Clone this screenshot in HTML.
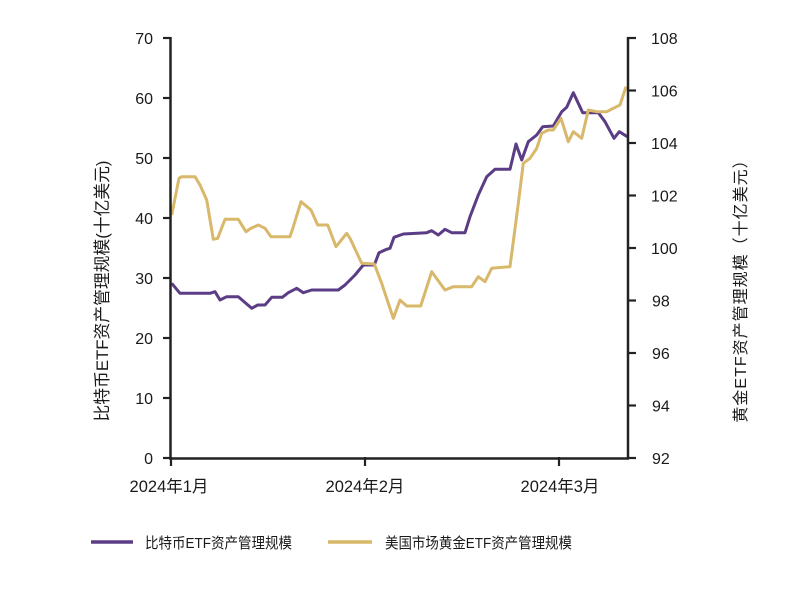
<!DOCTYPE html>
<html>
<head>
<meta charset="utf-8">
<style>
html,body{margin:0;padding:0;background:#fff;}
svg{display:block;}
text{font-family:"Liberation Sans","Noto Sans CJK SC",sans-serif;fill:#1a1a1a;}
</style>
</head>
<body>
<svg width="806" height="591" viewBox="0 0 806 591" xmlns="http://www.w3.org/2000/svg">
<rect width="806" height="591" fill="#fff"/>

<!-- purple series -->
<polyline fill="none" stroke="#5a3d85" stroke-width="3" stroke-linejoin="round" points="
171.7,283.3 180,293.3 210,293.3 215,291.7 220,300 226.7,296.7 238.3,296.7 251.7,308.3 257.7,305 265,305 271.7,297.3 282.3,297.3 288.3,292.7 296.7,288.3 303.3,292.7 311.7,290 338.3,290 345,285 355,275 363.3,265 374.3,265 379,252.7 386.7,249.3 390,248.3 394,237.3 403.3,234 426.7,232.7 431.7,230.7 438.3,235 445,229.3 451.7,232.7 465,232.7 470,216.7 478.3,195 486.7,176.7 495,169.3 510,169.3 516,144 521.7,160 528.3,141.7 536.7,135 542.7,126.7 553.3,126 561.7,111.7 566.7,107.3 573.3,92.7 582.7,112.7 598.3,112.7 605,121.7 614,138.3 619.3,131.7 627.3,136.7"/>

<!-- gold series -->
<polyline fill="none" stroke="#d8b86a" stroke-width="3" stroke-linejoin="round" points="
171.7,215 179,178.3 181.7,176.7 195,176.7 200,185 206.7,200 213.3,239.3 217.7,238.3 225,219.3 238.3,219.3 246,231.7 251,228.3 258.3,225 265,228.3 271,236.7 290,236.7 293.3,226.7 301,201.7 311,210 317.7,225 327.7,225 336,246.7 346.7,233.3 350,238.3 361.7,263.3 374.3,264 381.7,283.3 393.3,318.3 400,300 406.7,306 420.7,306 431.7,271.7 445,290 453.3,286.7 471.7,286.7 478.3,276.7 485,281.7 491.7,268.3 510,266.7 518.3,203.3 523.3,163.3 530,158.3 536.7,148.3 541.7,133.3 548.3,130 553.3,130 561,118.3 568.3,141.7 573.3,131.7 581.7,138.3 588.3,110 596.7,111.7 606.7,111.7 613.3,108.3 620,105 626,86.7"/>

<!-- axes -->
<g stroke="#222" stroke-width="2.5" fill="none">
<line x1="170.5" y1="37" x2="170.5" y2="459"/>
<line x1="628" y1="37" x2="628" y2="459"/>
<line x1="169" y1="458.5" x2="629" y2="458.5"/>
</g>
<g stroke="#222" stroke-width="2.2">
<line x1="163" y1="38" x2="171" y2="38"/>
<line x1="163" y1="98" x2="171" y2="98"/>
<line x1="163" y1="158" x2="171" y2="158"/>
<line x1="163" y1="218" x2="171" y2="218"/>
<line x1="163" y1="278" x2="171" y2="278"/>
<line x1="163" y1="338" x2="171" y2="338"/>
<line x1="163" y1="398" x2="171" y2="398"/>
<line x1="163" y1="458" x2="171" y2="458"/>
<line x1="627" y1="38" x2="636" y2="38"/>
<line x1="627" y1="90.5" x2="636" y2="90.5"/>
<line x1="627" y1="143" x2="636" y2="143"/>
<line x1="627" y1="195.5" x2="636" y2="195.5"/>
<line x1="627" y1="248" x2="636" y2="248"/>
<line x1="627" y1="300.5" x2="636" y2="300.5"/>
<line x1="627" y1="353" x2="636" y2="353"/>
<line x1="627" y1="405.5" x2="636" y2="405.5"/>
<line x1="627" y1="458" x2="636" y2="458"/>
<line x1="171" y1="457" x2="171" y2="466"/>
<line x1="365" y1="457" x2="365" y2="466"/>
<line x1="559" y1="457" x2="559" y2="466"/>
</g>

<g font-size="16" text-anchor="end">
<text x="153" y="44">70</text>
<text x="153" y="104">60</text>
<text x="153" y="164">50</text>
<text x="153" y="224">40</text>
<text x="153" y="284">30</text>
<text x="153" y="344">20</text>
<text x="153" y="404">10</text>
<text x="153" y="464">0</text>
</g>
<g font-size="16" text-anchor="start">
<text x="651" y="44">108</text>
<text x="651" y="96.5">106</text>
<text x="651" y="149">104</text>
<text x="651" y="201.5">102</text>
<text x="651" y="254">100</text>
<text x="652" y="306.5">98</text>
<text x="652" y="359">96</text>
<text x="652" y="411.5">94</text>
<text x="652" y="464">92</text>
</g>
<g font-size="16.5" text-anchor="middle">
<text x="169" y="492">2024年1月</text>
<text x="365" y="492">2024年2月</text>
<text x="560" y="492">2024年3月</text>
</g>

<text font-size="16.8" text-anchor="middle" transform="translate(108,291) rotate(-90)">比特币ETF资产管理规模(十亿美元)</text>
<text font-size="16" text-anchor="middle" letter-spacing="1" transform="translate(746,287) rotate(-90)">黄金ETF资产管理规模（十亿美元）</text>

<line x1="91" y1="542" x2="133" y2="542" stroke="#5a3d85" stroke-width="3.5"/>
<text x="145" y="548" font-size="15" textLength="147" lengthAdjust="spacingAndGlyphs">比特币ETF资产管理规模</text>
<line x1="328" y1="542" x2="372" y2="542" stroke="#d8b86a" stroke-width="3.5"/>
<text x="385" y="548" font-size="15" textLength="187" lengthAdjust="spacingAndGlyphs">美国市场黄金ETF资产管理规模</text>
</svg>
</body>
</html>
